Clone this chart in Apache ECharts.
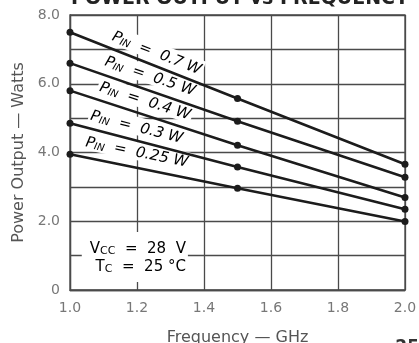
<!DOCTYPE html>
<html>
<head>
<meta charset="utf-8">
<script src="https://cdn.jsdelivr.net/npm/echarts@6/dist/echarts.min.js"></script>
<style>
  html, body { margin: 0; padding: 0; background: #fff; }
  #chart { width: 419px; height: 343px; }
</style>
</head>
<body>
<div id="chart"></div>
<script>
// frequency points (GHz) where each curve was measured
const freq = [1.0, 1.5, 2.0];
// power output (W) per input drive level
const pin070 = [7.5, 5.57, 3.66];
const pin050 = [6.6, 4.91, 3.28];
const pin040 = [5.8, 4.21, 2.69];
const pin030 = [4.85, 3.58, 2.35];
const pin025 = [3.95, 2.96, 1.99];
const pinLevels = ['0.7 W', '0.5 W', '0.4 W', '0.3 W', '0.25 W'];
const curves = [pin070, pin050, pin040, pin030, pin025];

// where the P_IN tags sit (GHz, W)
const tagFreq = [1.26, 1.24, 1.225, 1.2, 1.2];
const tagWatts = [6.92, 6.25, 5.53, 4.77, 4.04];

const xTickLabels = ['1.0', '1.2', '1.4', '1.6', '1.8', '2.0'];
const yTickLabels = ['0', '', '2.0', '', '4.0', '', '6.0', '', '8.0'];

const titleText = 'POWER OUTPUT vs FREQUENCY';
const condText = ['28  V', '25 °C'];
const condAt = [1.352, 0.96];

const font = 'DejaVu Sans';
const gridColor = '#4a4a4a';
const lineColor = '#1c1c1c';

const chart = echarts.init(document.getElementById('chart'));

const series = curves.map((vals, i) => ({
  name: pinLevels[i],
  type: 'line',
  z: 3,
  data: freq.map((f, j) => [f, vals[j]]),
  symbol: 'circle',
  symbolSize: 7,
  lineStyle: {color: lineColor, width: 2.6},
  itemStyle: {color: lineColor},
  silent: true
}));

let option = {
  animation: false,
  title: {
    text: titleText,
    left: 66,
    top: -15,
    textStyle: {fontFamily: font, fontSize: 19, fontWeight: 'bold', color: '#222'}
  },
  grid: {
    left: 70, right: 14, top: 15, bottom: 53,
    outerBoundsMode: 'none',
    show: true, borderColor: gridColor, borderWidth: 1.3
  },
  xAxis: {
    type: 'value',
    min: 1.0,
    max: 2.0,
    interval: 0.2,
    name: 'Frequency — GHz',
    nameLocation: 'middle',
    nameGap: 40,
    nameTextStyle: {fontFamily: font, fontSize: 16, color: '#555'},
    axisLine: {show: true, lineStyle: {color: gridColor, width: 1.3}},
    axisTick: {show: false},
    splitLine: {show: true, lineStyle: {color: gridColor, width: 1.3}},
    axisLabel: {
      margin: 11,
      fontFamily: font,
      fontSize: 14,
      color: '#777',
      formatter: v => xTickLabels[Math.round((v - 1) / 0.2)]
    }
  },
  yAxis: {
    type: 'value',
    min: 0,
    max: 8,
    interval: 1,
    name: 'Power Output — Watts',
    nameLocation: 'middle',
    nameGap: 43,
    nameTextStyle: {fontFamily: font, fontSize: 16, color: '#555'},
    axisLine: {show: true, lineStyle: {color: gridColor, width: 1.3}},
    axisTick: {show: false},
    splitLine: {show: true, lineStyle: {color: gridColor, width: 1.3}},
    axisLabel: {
      margin: 10,
      fontFamily: font,
      fontSize: 14,
      color: '#777',
      formatter: v => yTickLabels[Math.round(v)]
    }
  },
  series: series
};
chart.setOption(option);

// tags follow the slope of their own curve
const graphics = curves.map((vals, i) => {
  const a = chart.convertToPixel({gridIndex: 0}, [freq[0], vals[0]]);
  const b = chart.convertToPixel({gridIndex: 0}, [freq[freq.length - 1], vals[vals.length - 1]]);
  const ang = Math.atan2(b[1] - a[1], b[0] - a[0]);
  const p = chart.convertToPixel({gridIndex: 0}, [tagFreq[i], tagWatts[i]]);
  return {
    type: 'text',
    x: p[0],
    y: p[1],
    rotation: -ang,
    z: 1,
    style: {
      text: '{p|P}{s|IN}{n|  =  ' + pinLevels[i] + '}',
      align: 'center',
      verticalAlign: 'middle',
      backgroundColor: '#fff',
      padding: [0, 2],
      rich: {
        p: {fontFamily: font, fontStyle: 'italic', fontSize: 15, color: '#333', lineHeight: 18, verticalAlign: 'bottom'},
        s: {fontFamily: font, fontStyle: 'italic', fontSize: 10, color: '#333', lineHeight: 8, verticalAlign: 'bottom'},
        n: {fontFamily: font, fontStyle: 'italic', fontSize: 15, color: '#333', lineHeight: 18, verticalAlign: 'bottom'}
      }
    }
  };
});

const c = chart.convertToPixel({gridIndex: 0}, condAt);
graphics.push({
  type: 'text',
  x: c[0],
  y: c[1],
  z: 1,
  style: {
    text: '{n|V}{s|CC}{n|  =  ' + condText[0] + '}\n{n|T}{s|C}{n|  =  ' + condText[1] + '}',
    align: 'right',
    verticalAlign: 'middle',
    backgroundColor: '#fff',
    padding: [7, 2, 7, 8],
    rich: {
      n: {fontFamily: font, fontSize: 15, color: '#333', lineHeight: 18, verticalAlign: 'bottom'},
      s: {fontFamily: font, fontSize: 11, color: '#333', lineHeight: 8, verticalAlign: 'bottom'}
    }
  }
});

// figure number, cut off by the page edge
graphics.push({
  type: 'text',
  right: 0,
  bottom: -13,
  style: {text: '25', fontFamily: font, fontSize: 17, fontWeight: 'bold', fill: '#333'}
});

chart.setOption({graphic: graphics});
</script>
</body>
</html>
